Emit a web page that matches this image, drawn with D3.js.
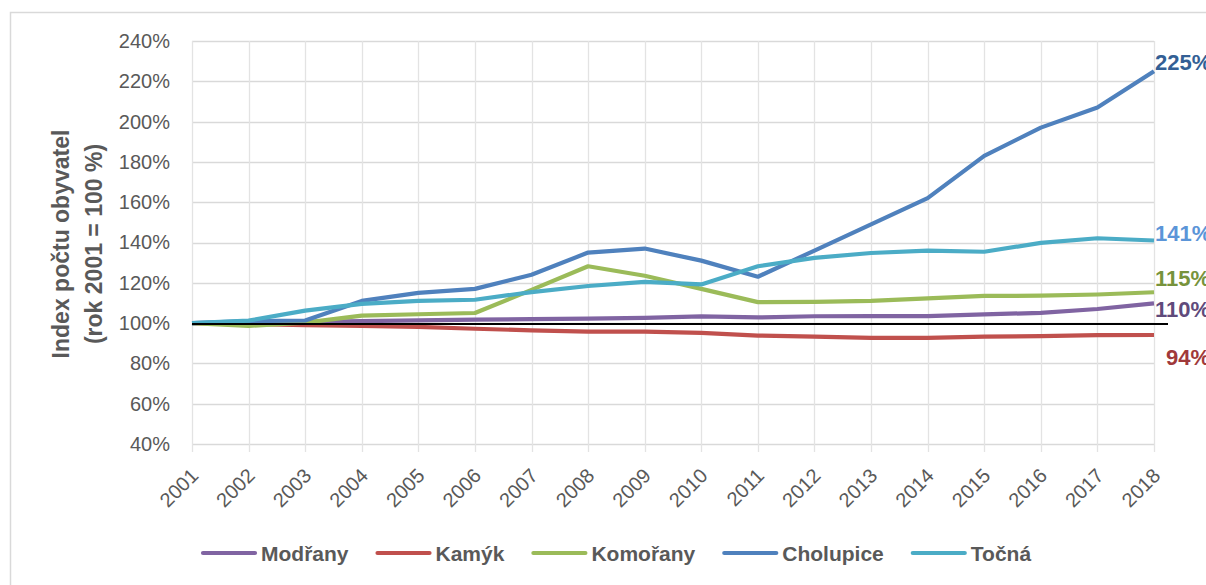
<!DOCTYPE html>
<html>
<head>
<meta charset="utf-8">
<script src="https://cdn.jsdelivr.net/npm/d3@7"></script>
<style>
  html, body { margin: 0; padding: 0; background: #fff; overflow: hidden; }
  svg { display: block; font-family: "Liberation Sans", Arial, sans-serif; }
</style>
</head>
<body>
<div id="chart"></div>
<script>
// Years on the x axis
const years = ["2001","2002","2003","2004","2005","2006","2007","2008","2009",
               "2010","2011","2012","2013","2014","2015","2016","2017","2018"]

// Index of population, 2001 = 100 %
const modrany   = [100,100.3,100.6,101,101.4,101.7,102,102.2,102.6,103.3,102.8,103.4,103.5,103.5,104.3,105.1,107,109.8]
const kamyk     = [100,99.5,99,98.6,98.1,97.2,96.4,95.8,95.8,95.1,93.8,93.3,92.7,92.7,93.3,93.5,94,94.1]
const komorany  = [100,98.6,100.2,103.7,104.4,105,116.5,128.2,123.5,117,110.4,110.5,111,112.3,113.5,113.6,114.2,115.3]
const cholupice = [100,101,101.3,111,115,117,124,135,137,131,123,136,149,162,183,197,207,225]
const tocna     = [100,101.2,106.2,109.5,111,111.6,115.4,118.4,120.5,119.2,128.2,132.4,134.8,136,135.4,139.8,142.1,141]

const seriesNames  = ["Modřany","Kamýk","Komořany","Cholupice","Točná"]
const seriesValues = [modrany, kamyk, komorany, cholupice, tocna]
const seriesColors = ["#8064A2","#C0504D","#9BBB59","#4F81BD","#4BACC6"]

// End labels (value of 2018)
const endLabels      = ["110%","94%","115%","225%","141%"]
const endLabelColors = ["#604A7B","#A0393A","#77933C","#335F95","#5B95D8"]
const endLabelY      = [317,365,286,70,241]   // baselines, nudged apart like the original

const yTicks = [40,60,80,100,120,140,160,180,200,220,240]

const W = 1206, H = 585
const svg = d3.select('#chart').append('svg')
    .attr('width', W).attr('height', H)

// Outer chart border
svg.append('rect')
    .attr('x', 10.5).attr('y', 12.5)
    .attr('width', 1400).attr('height', 800)
    .attr('fill', 'none').attr('stroke', '#D9D9D9').attr('stroke-width', 1.5)

const x = d3.scalePoint().domain(years).range([192, 1154])
const y = d3.scaleLinear().domain([40, 240]).range([444, 41])

// Horizontal grid
svg.append('g')
    .selectAll('line').data(yTicks).join('line')
    .attr('x1', 192).attr('x2', 1154)
    .attr('y1', d => Math.round(y(d)) + 0.5).attr('y2', d => Math.round(y(d)) + 0.5)
    .attr('stroke', '#D9D9D9').attr('stroke-width', 1.3)

// Vertical grid + tick marks below axis
svg.append('g')
    .selectAll('line').data(years).join('line')
    .attr('x1', d => Math.round(x(d)) + 0.5).attr('x2', d => Math.round(x(d)) + 0.5)
    .attr('y1', y(240)).attr('y2', y(40) + 8)
    .attr('stroke', '#E3E3E3').attr('stroke-width', 1.3)

// Y axis labels
const yAxis = d3.axisLeft(y).tickValues(yTicks).tickSize(0).tickPadding(0)
    .tickFormat(d => d + '%')
svg.append('g')
    .attr('transform', 'translate(170,0)')
    .call(yAxis)
    .call(g => g.select('.domain').remove())
    .selectAll('text')
    .attr('font-size', 20).attr('fill', '#595959')
    .attr('font-family', '"Liberation Sans", Arial, sans-serif')

// X axis labels, rotated
const xAxis = d3.axisBottom(x).tickSize(0).tickPadding(0)
svg.append('g')
    .attr('transform', 'translate(0,' + y(40) + ')')
    .call(xAxis)
    .call(g => g.select('.domain').remove())
    .selectAll('text')
    .attr('font-size', 20).attr('fill', '#595959')
    .attr('font-family', '"Liberation Sans", Arial, sans-serif')
    .attr('text-anchor', 'end')
    .attr('y', 0).attr('dy', 0)
    .attr('transform', 'translate(7,33) rotate(-45)')

// Y axis title
const title = svg.append('text')
    .attr('transform', 'translate(77,244) rotate(-90)')
    .attr('text-anchor', 'middle')
    .attr('font-size', 23).attr('font-weight', 'bold').attr('fill', '#595959')
title.append('tspan').attr('x', 0).attr('y', -8).text('Index počtu obyvatel')
title.append('tspan').attr('x', 0).attr('y', 25).text('(rok 2001 = 100 %)')

// Series lines
const line = d3.line()
    .x((d, i) => x(years[i]))
    .y(d => y(d))

svg.append('g')
    .selectAll('path').data(seriesValues).join('path')
    .attr('d', line)
    .attr('fill', 'none')
    .attr('stroke', (d, i) => seriesColors[i])
    .attr('stroke-width', 4.2)
    .attr('stroke-linejoin', 'round')

// 100 % reference line
svg.append('line')
    .attr('x1', x('2001')).attr('x2', 1168)
    .attr('y1', y(100) + 1).attr('y2', y(100) + 1)
    .attr('stroke', '#000').attr('stroke-width', 2)

// End labels
svg.append('g')
    .selectAll('text').data(endLabels).join('text')
    .attr('x', (d, i) => i === 1 ? 1166 : 1155)
    .attr('y', (d, i) => endLabelY[i])
    .attr('font-size', 22).attr('font-weight', 'bold')
    .attr('fill', (d, i) => endLabelColors[i])
    .text(d => d)

// Legend
const legend = svg.append('g').attr('transform', 'translate(203,553)')
let lx = 0
seriesNames.forEach((name, i) => {
    const item = legend.append('g').attr('transform', 'translate(' + lx + ',0)')
    item.append('line')
        .attr('x1', 0).attr('x2', 52).attr('y1', 0).attr('y2', 0)
        .attr('stroke', seriesColors[i]).attr('stroke-width', 4.2)
        .attr('stroke-linecap', 'round')
    const t = item.append('text')
        .attr('x', 58).attr('y', 0).attr('dy', '0.36em')
        .attr('font-size', 21).attr('font-weight', 'bold').attr('fill', '#595959')
        .text(name)
    lx += 58 + t.node().getComputedTextLength() + 29
})
</script>
</body>
</html>
